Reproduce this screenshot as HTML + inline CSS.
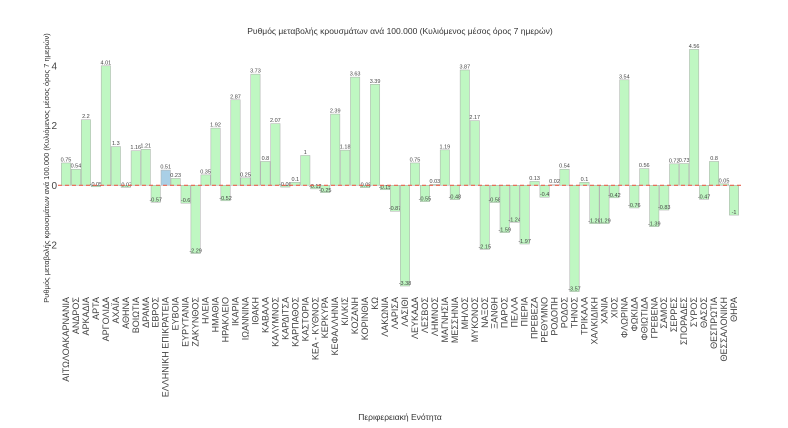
<!DOCTYPE html>
<html><head><meta charset="utf-8"><style>
html,body{margin:0;padding:0;background:#fff;}
svg{display:block;font-family:"Liberation Sans","DejaVu Sans",sans-serif;}
</style></head><body>
<svg id="chart" width="788" height="428" viewBox="0 0 788 428" xmlns="http://www.w3.org/2000/svg">
<text x="400" y="34" font-size="8.5" fill="#333" text-anchor="middle">Ρυθμός μεταβολής κρουσμάτων ανά 100.000 (Κυλιόμενος μέσος όρος 7 ημερών)</text>
<text transform="translate(49,168) rotate(-90)" font-size="7.5" fill="#333" text-anchor="middle">Ρυθμός μεταβολής κρουσμάτων ανά 100.000 (Κυλιόμενος μέσος όρος 7 ημερών)</text>
<text x="400" y="420" font-size="8.5" fill="#333" text-anchor="middle">Περιφερειακή Ενότητα</text>
<g id="marks"></g>
</svg>
<script>
const categories = ["ΑΙΤΩΛΟΑΚΑΡΝΑΝΙΑ","ΑΝΔΡΟΣ","ΑΡΚΑΔΙΑ","ΑΡΤΑ","ΑΡΓΟΛΙΔΑ","ΑΧΑΪΑ","ΑΘΗΝΑ","ΒΟΙΩΤΙΑ","ΔΡΑΜΑ","ΕΒΡΟΣ","ΕΛΛΗΝΙΚΗ ΕΠΙΚΡΑΤΕΙΑ","ΕΥΒΟΙΑ","ΕΥΡΥΤΑΝΙΑ","ΖΑΚΥΝΘΟΣ","ΗΛΕΙΑ","ΗΜΑΘΙΑ","ΗΡΑΚΛΕΙΟ","ΙΚΑΡΙΑ","ΙΩΑΝΝΙΝΑ","ΙΘΑΚΗ","ΚΑΒΑΛΑ","ΚΑΛΥΜΝΟΣ","ΚΑΡΔΙΤΣΑ","ΚΑΡΠΑΘΟΣ","ΚΑΣΤΟΡΙΑ","ΚΕΑ - ΚΥΘΝΟΣ","ΚΕΡΚΥΡΑ","ΚΕΦΑΛΛΗΝΙΑ","ΚΙΛΚΙΣ","ΚΟΖΑΝΗ","ΚΟΡΙΝΘΙΑ","ΚΩ","ΛΑΚΩΝΙΑ","ΛΑΡΙΣΑ","ΛΑΣΙΘΙ","ΛΕΥΚΑΔΑ","ΛΕΣΒΟΣ","ΛΗΜΝΟΣ","ΜΑΓΝΗΣΙΑ","ΜΕΣΣΗΝΙΑ","ΜΗΛΟΣ","ΜΥΚΟΝΟΣ","ΝΑΞΟΣ","ΞΑΝΘΗ","ΠΑΡΟΣ","ΠΕΛΛΑ","ΠΙΕΡΙΑ","ΠΡΕΒΕΖΑ","ΡΕΘΥΜΝΟ","ΡΟΔΟΠΗ","ΡΟΔΟΣ","ΤΗΝΟΣ","ΤΡΙΚΑΛΑ","ΧΑΛΚΙΔΙΚΗ","ΧΑΝΙΑ","ΧΙΟΣ","ΦΛΩΡΙΝΑ","ΦΩΚΙΔΑ","ΦΘΙΩΤΙΔΑ","ΓΡΕΒΕΝΑ","ΣΑΜΟΣ","ΣΕΡΡΕΣ","ΣΠΟΡΑΔΕΣ","ΣΥΡΟΣ","ΘΑΣΟΣ","ΘΕΣΠΡΩΤΙΑ","ΘΕΣΣΑΛΟΝΙΚΗ","ΘΗΡΑ"];
const values = [0.75,0.54,2.2,-0.05,4.01,1.3,-0.07,1.16,1.21,-0.57,0.51,0.23,-0.6,-2.29,0.35,1.92,-0.52,2.87,0.25,3.73,0.8,2.07,-0.06,0.1,1,-0.12,-0.25,2.39,1.18,3.63,-0.08,3.39,-0.15,-0.87,-3.38,0.75,-0.55,0.03,1.19,-0.48,3.87,2.17,-2.15,-0.58,-1.59,-1.24,-1.97,0.13,-0.4,0.02,0.54,-3.57,0.1,-1.29,-1.29,-0.42,3.54,-0.76,0.56,-1.39,-0.83,0.72,0.73,4.56,-0.47,0.8,0.05,-1.00];
const highlight = ["ΕΛΛΗΝΙΚΗ ΕΠΙΚΡΑΤΕΙΑ"];
const yTicks = [-2,0,2,4];

const NS="http://www.w3.org/2000/svg";
const g=document.getElementById('marks');
const x0=61, x1=739, zeroY=185.3, unit=29.8;
const slot=(x1-x0)/categories.length;
function xScale(i){return x0+i*slot;}
function yScale(v){return zeroY-v*unit;}
function mk(tag,attrs){const e=document.createElementNS(NS,tag);for(const k in attrs)e.setAttribute(k,attrs[k]);g.appendChild(e);return e;}

yTicks.forEach(t=>{
  const e=mk('text',{x:57,y:yScale(t)+3.5,'font-size':10,fill:'#444','text-anchor':'end'});
  
  
  e.textContent=String(t);
});

categories.forEach((c,i)=>{
  const v=values[i];
  const y=Math.min(yScale(v),zeroY), h=Math.abs(yScale(v)-zeroY);
  const r=mk('rect',{x:xScale(i)+0.3,y:y,width:slot-0.6,height:Math.max(h,0.5),fill:highlight.includes(c)?'#a9cfe6':'#bff7c2',stroke:'#aaa','stroke-width':0.5});
  
  
  const ly=v>=0?yScale(v)-1.5:yScale(v)-1;
  const t=mk('text',{x:xScale(i)+slot/2,y:ly,'font-size':5.5,fill:'#444','text-anchor':'middle'});
  
  
  t.textContent=String(v);
  const lx=xScale(i)+slot/2+3;
  const lt=mk('text',{x:lx,y:297,'font-size':9,fill:'#444','text-anchor':'end',transform:'rotate(-90 '+lx+' 297)'});
  
  
  lt.textContent=c;
});
const zl=mk('line',{x1:58,x2:742,y1:zeroY,y2:zeroY,stroke:'#e8604c','stroke-width':1.2,'stroke-dasharray':'4,3'});


</script>
</body></html>
